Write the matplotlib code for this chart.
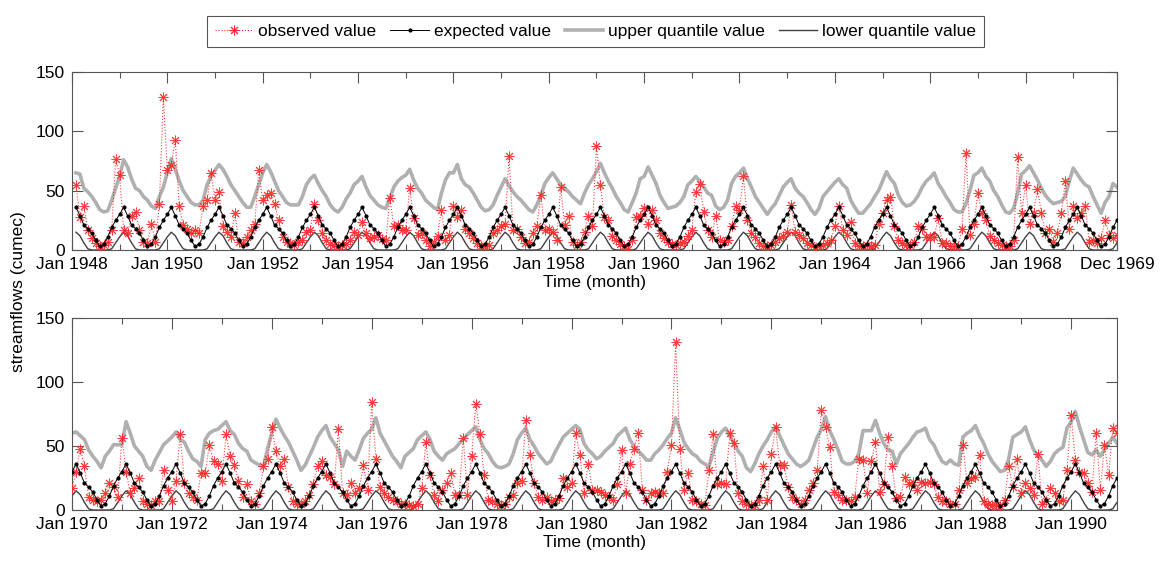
import numpy as np
import matplotlib
matplotlib.use("Agg")
import matplotlib.pyplot as plt
from matplotlib.lines import Line2D

plt.rcParams['font.family'] = ['Liberation Sans', 'DejaVu Sans']

# monthly streamflow (cumec), one row per year, Jan..Dec
obs_1948_1969 = [
    [np.nan, 55, 28, 37, 17, 10, 6, 3, 4, 7, 17, 77],
    [63, 17, 14, 29, 32, 17, 7, 6, 22, 7, 39, 129],
    [67, 72, 93, 37, 21, 18, 14, 17, 14, 37, 42, 65],
    [42, 49, 20, 15, 11, 31, 7, 6, 11, 17, 22, 67],
    [42, 46, 48, 39, 25, 11, 7, 6, 4, 7, 8, 15],
    [17, 39, 25, 14, 8, 5, 4, 3, 4, 5, 8, 15],
    [13, 24, 14, 10, 11, 13, 9, 8, 44, 20, 21, 17],
    [17, 52, 27, 13, 14, 8, 3, 7, 12, 34, 8, 13],
    [37, 28, 34, 18, 14, 10, 6, 3, 3, 4, 14, 17],
    [20, 22, 79, 17, 18, 11, 6, 7, 14, 20, 46, 17],
    [18, 15, 8, 53, 21, 29, 7, 4, 7, 15, 29, 20],
    [88, 55, 28, 25, 12, 8, 5, 3, 1, 8, 28, 29],
    [35, 22, 34, 25, 14, 10, 7, 5, 4, 6, 7, 12],
    [17, 49, 56, 32, 17, 11, 29, 8, 7, 8, 20, 37],
    [34, 62, 25, 14, 11, 6, 3, 3, 4, 7, 10, 12],
    [15, 38, 15, 13, 10, 6, 4, 1, 3, 4, 6, 8],
    [20, 37, 17, 13, 24, 6, 3, 3, 4, 3, 4, 22],
    [31, 42, 45, 20, 8, 6, 4, 4, 7, 20, 18, 11],
    [11, 11, 27, 6, 6, 3, 3, 3, 18, 82, 13, 22],
    [48, 31, 25, 12, 8, 6, 4, 3, 3, 8, 78, 31],
    [55, 22, 31, 51, 31, 14, 18, 7, 14, 31, 58, 18],
    [37, 27, 31, 37, 7, 8, 6, 10, 25, 13, 10, 13],
]
upper_1948_1969 = [
    [np.nan, 65, 64, 52, 49, 45, 40, 34, 32, 33, 42, 52],
    [62, 76, 70, 60, 52, 50, 45, 42, 37, 35, 45, 53],
    [65, 77, 68, 58, 50, 45, 40, 38, 38, 42, 55, 62],
    [67, 72, 68, 62, 55, 50, 45, 40, 36, 36, 45, 55],
    [65, 72, 66, 58, 50, 45, 40, 38, 38, 38, 45, 55],
    [60, 63, 56, 50, 45, 38, 34, 32, 36, 43, 48, 55],
    [58, 62, 53, 46, 42, 38, 36, 35, 44, 53, 58, 61],
    [63, 68, 59, 52, 48, 42, 39, 36, 34, 48, 59, 65],
    [65, 72, 60, 55, 53, 48, 42, 36, 33, 34, 38, 46],
    [53, 60, 54, 49, 45, 42, 38, 34, 32, 38, 46, 56],
    [61, 65, 60, 55, 52, 49, 45, 42, 39, 48, 55, 60],
    [66, 73, 65, 58, 52, 45, 40, 34, 32, 40, 48, 60],
    [62, 70, 63, 56, 46, 40, 35, 36, 37, 40, 45, 55],
    [58, 62, 58, 53, 48, 46, 37, 34, 36, 42, 56, 62],
    [65, 69, 60, 53, 45, 40, 35, 30, 35, 39, 46, 53],
    [57, 60, 52, 48, 45, 40, 34, 30, 35, 45, 49, 53],
    [57, 60, 55, 52, 42, 36, 31, 31, 35, 39, 45, 50],
    [58, 66, 60, 56, 46, 40, 37, 38, 41, 46, 53, 58],
    [61, 65, 56, 51, 45, 40, 34, 32, 32, 39, 50, 63],
    [65, 69, 62, 58, 50, 45, 38, 32, 31, 35, 48, 64],
    [67, 71, 65, 59, 52, 46, 42, 39, 40, 41, 45, 58],
    [69, 64, 59, 55, 53, 45, 38, 31, 40, 45, 56, 53],
]
obs_1970_1990 = [
    [17, 30, 48, 34, 10, 8, 7, 8, 13, 21, 18, 10],
    [56, 30, 13, 17, 25, 7, 5, 4, 7, 7, 31, 16],
    [7, 23, 59, 21, 13, 10, 8, 29, 29, 51, 38, 36],
    [23, 59, 42, 35, 23, 10, 20, 7, 5, 13, 34, 40],
    [65, 46, 34, 40, 18, 7, 5, 5, 7, 12, 20, 34],
    [38, 27, 26, 20, 63, 13, 12, 21, 13, 17, 35, 16],
    [84, 40, 18, 13, 10, 8, 7, 5, 5, 4, 3, 5],
    [17, 53, 27, 12, 7, 16, 21, 29, 12, 12, 56, 12],
    [42, 83, 59, 27, 8, 7, 5, 4, 5, 10, 12, 21],
    [23, 70, 43, 21, 10, 8, 10, 7, 8, 9, 25, 18],
    [21, 60, 43, 13, 36, 16, 16, 14, 12, 10, 8, 20],
    [47, 13, 36, 48, 60, 16, 8, 13, 14, 13, 13, 30],
    [51, 131, 48, 16, 29, 8, 7, 5, 4, 31, 59, 20],
    [21, 20, 60, 52, 13, 7, 5, 4, 4, 8, 34, 8],
    [44, 65, 35, 35, 18, 10, 8, 5, 8, 16, 21, 31],
    [78, 65, 49, 14, 12, 8, 8, 7, 10, 40, 39, 13],
    [38, 53, 14, 20, 57, 34, 9, 10, 26, 20, 22, 16],
    [22, 21, 22, 20, 10, 7, 7, 5, 5, 16, 51, 21],
    [25, 26, 43, 7, 5, 4, 4, 3, 8, 34, 18, 40],
    [13, 21, 17, 12, 44, 5, 7, 17, 13, 7, 8, 31],
    [74, 39, 30, 29, 21, 14, 60, 16, 51, 27, 64, 60],
]
upper_1970_1990 = [
    [60, 61, 58, 55, 47, 42, 38, 33, 42, 46, 51, 51],
    [51, 69, 60, 50, 46, 42, 34, 31, 39, 45, 51, 54],
    [57, 61, 55, 53, 46, 40, 38, 34, 55, 60, 62, 63],
    [66, 69, 62, 59, 52, 48, 46, 39, 37, 35, 34, 48],
    [60, 71, 64, 58, 53, 46, 39, 31, 35, 42, 49, 57],
    [62, 66, 57, 52, 47, 34, 46, 42, 39, 47, 56, 60],
    [63, 72, 60, 54, 48, 42, 38, 33, 42, 45, 48, 55],
    [58, 61, 55, 46, 42, 39, 44, 46, 48, 52, 55, 59],
    [62, 65, 55, 48, 44, 38, 34, 33, 34, 36, 44, 55],
    [60, 64, 55, 50, 44, 40, 36, 38, 45, 51, 57, 60],
    [63, 66, 63, 52, 47, 44, 40, 42, 46, 49, 52, 58],
    [61, 64, 55, 50, 46, 43, 39, 39, 44, 47, 51, 56],
    [60, 72, 63, 53, 48, 44, 42, 38, 36, 34, 45, 56],
    [61, 64, 58, 52, 46, 42, 33, 30, 36, 44, 50, 55],
    [61, 65, 58, 51, 44, 40, 36, 34, 36, 39, 48, 57],
    [63, 73, 62, 55, 47, 38, 36, 36, 38, 44, 62, 62],
    [62, 70, 60, 52, 47, 46, 36, 44, 48, 52, 57, 61],
    [62, 64, 55, 51, 44, 38, 36, 39, 36, 35, 57, 60],
    [62, 66, 58, 52, 44, 38, 34, 30, 31, 40, 57, 59],
    [61, 65, 55, 47, 42, 39, 34, 38, 44, 47, 49, 64],
    [69, 77, 65, 55, 45, 43, 47, 42, 47, 52, 57, 52],
]
# monthly climatology, Jan..Dec
expected_month = [30, 36, 29, 21, 18, 14, 8, 3, 5, 11, 19, 25]
lower_month = [11, 15, 12, 6, 1, 0, 0, 0, 0, 0, 1, 6]

top_labels = ['Jan 1948', 'Jan 1950', 'Jan 1952', 'Jan 1954', 'Jan 1956', 'Jan 1958',
              'Jan 1960', 'Jan 1962', 'Jan 1964', 'Jan 1966', 'Jan 1968', 'Dec 1969']
bottom_labels = ['Jan 1970', 'Jan 1972', 'Jan 1974', 'Jan 1976', 'Jan 1978', 'Jan 1980',
                 'Jan 1982', 'Jan 1984', 'Jan 1986', 'Jan 1988', 'Jan 1990']

red = '#ff2a2a'
grey = '#b0b0b0'
dark = '#404040'
axis_col = '#555555'
asterisk = (8, 2, 0)


def draw_panel(ax, obs, upper, labels, end_label):
    obs = np.array(obs, dtype=float).ravel()
    upper = np.array(upper, dtype=float).ravel()
    nyears = len(obs) // 12
    expected = np.tile(expected_month, nyears).astype(float)
    lower = np.tile(lower_month, nyears).astype(float)
    expected[np.isnan(obs)] = np.nan
    lower[np.isnan(obs)] = np.nan
    t = np.arange(len(obs))
    last = len(obs) - 1

    ax.plot(t, upper, color=grey, lw=2.6, zorder=1)
    ax.plot(t, lower, color=dark, lw=1.0, zorder=2)
    ax.plot(t, obs, color=red, ls=':', lw=0.8, marker=asterisk, ms=7,
            mew=0.7, alpha=0.9, zorder=3)
    ax.plot(t, expected, color='black', lw=0.7, marker='.', ms=4, zorder=4)

    ax.set_xlim(0, last)
    ax.set_ylim(0, 150)
    ticks = list(range(0, last, 24))
    if end_label:
        # last label sits on the right-hand edge (Dec)
        ticks = ticks[:-1] + [last] if last - ticks[-1] < 12 else ticks + [last]
    ax.set_xticks(ticks)
    ax.set_xticklabels(labels)
    ax.set_xticks(range(12, last, 24), minor=True)
    ax.set_yticks([0, 50, 100, 150])
    ax.tick_params(which='major', direction='in', length=8, width=0.8,
                   top=True, right=True, labelsize=12.5, pad=5, color=axis_col)
    ax.tick_params(which='minor', direction='in', length=4.5, width=0.8,
                   top=True, color=axis_col)
    for s in ax.spines.values():
        s.set_color(axis_col)
        s.set_linewidth(0.8)
    ax.set_xlabel('Time (month)', fontsize=12.5, labelpad=2)


fig = plt.figure(figsize=(11.68, 5.71), dpi=100)
ax1 = fig.add_axes([0.0616, 0.5622, 0.8947, 0.3117])
ax2 = fig.add_axes([0.0616, 0.1068, 0.8947, 0.3363])

draw_panel(ax1, obs_1948_1969, upper_1948_1969, top_labels, True)
draw_panel(ax2, obs_1970_1990, upper_1970_1990, bottom_labels, False)

fig.text(0.016, 0.49, 'streamflows (cumec)', rotation=90, ha='center', va='center',
         fontsize=12.5)

handles = [
    Line2D([], [], color=red, ls=':', lw=0.8, marker=asterisk, ms=7, mew=0.7),
    Line2D([], [], color='black', lw=0.7, marker='.', ms=4),
    Line2D([], [], color=grey, lw=2.6),
    Line2D([], [], color=dark, lw=1.0),
]
names = ['observed value', 'expected value', 'upper quantile value', 'lower quantile value']
leg = fig.legend(handles, names, loc='center', bbox_to_anchor=(0.51, 0.945), ncol=4,
                 fontsize=12.5, handlelength=2.2, handletextpad=0.3, columnspacing=0.8,
                 fancybox=False, framealpha=1, borderpad=0.45)
leg.get_frame().set_edgecolor(axis_col)
leg.get_frame().set_linewidth(0.8)

fig.savefig('out.png', dpi=100)
